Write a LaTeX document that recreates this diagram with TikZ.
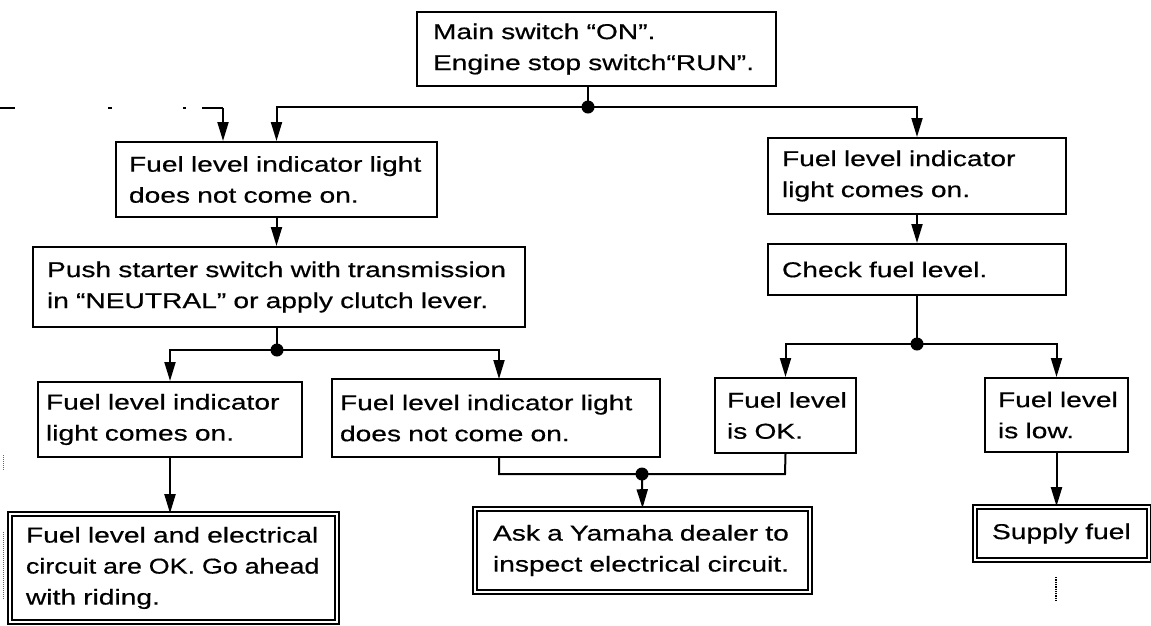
\documentclass[tikz,border=0pt]{standalone}
\usepackage{fontspec}
\setmainfont[FakeStretch=1.31,WordSpace=0.75,FakeBold=0.5]{Liberation Sans}
\usetikzlibrary{arrows.meta}
\begin{document}
\begin{tikzpicture}[x=1pt,y=-1pt,
  box/.style={draw,line width=2pt,align=left,inner ysep=0pt,
    font=\fontsize{21.5}{31}\selectfont},
  dbox/.style={box,double,double distance=2.4pt,line width=1.6pt},
  arr/.style={line width=2pt,-{Triangle[length=19pt,width=11pt]}},
  ln/.style={line width=2pt},
  dot/.style={circle,fill,inner sep=0pt,minimum size=13pt}]
\useasboundingbox (0,0) rectangle (1151,625);

% boxes
\node[box,minimum width=359,minimum height=74,inner xsep=16pt,text width=327pt] (A) at (596.5,49)
  {\mbox{Main switch “ON”.}\\\mbox{Engine stop switch“RUN”.}};
\node[box,minimum width=321,minimum height=75,inner xsep=13pt,text width=295pt] (B) at (276.5,179.5)
  {\mbox{Fuel level indicator light}\\\mbox{does not come on.}};
\node[box,minimum width=298,minimum height=76,inner xsep=14pt,text width=270pt] (C) at (917,176)
  {\mbox{Fuel level indicator}\\\mbox{light comes on.}};
\node[box,minimum width=492,minimum height=80,inner xsep=14pt,text width=464pt] (D) at (279,287)
  {\mbox{Push starter switch with transmission}\\\mbox{in “NEUTRAL” or apply clutch lever.}};
\node[box,minimum width=298,minimum height=51,inner xsep=14pt,text width=270pt] (E) at (917,269.5)
  {\mbox{Check fuel level.}};
\node[box,minimum width=264,minimum height=75,inner xsep=8pt,text width=248pt] (F) at (170,419.5)
  {\mbox{Fuel level indicator}\\\mbox{light comes on.}};
\node[box,minimum width=328,minimum height=78,inner xsep=8pt,text width=312pt] (G) at (496,418)
  {\mbox{Fuel level indicator light}\\\mbox{does not come on.}};
\node[box,minimum width=141,minimum height=75,inner xsep=12pt,text width=117pt] (H) at (785.5,415.5)
  {\mbox{Fuel level}\\\mbox{is OK.}};
\node[box,minimum width=143,minimum height=74,inner xsep=13pt,text width=117pt] (I) at (1056.5,415)
  {\mbox{Fuel level}\\\mbox{is low.}};
\node[dbox,minimum width=327,minimum height=108,inner xsep=16pt,text width=295pt] (J) at (173.5,568)
  {\mbox{Fuel level and electrical}\\\scalebox{0.955}[1]{circuit are OK. Go ahead}\\\mbox{with riding.}};
\node[dbox,minimum width=335,minimum height=83,inner xsep=18pt,text width=299pt] (K) at (642.5,550.5)
  {\mbox{Ask a Yamaha dealer to}\\\mbox{inspect electrical circuit.}};
\node[dbox,minimum width=174,minimum height=53,inner xsep=17pt,text width=140pt] (L) at (1062,533.5)
  {\mbox{Supply fuel}};

% junction dots
\node[dot] (d1) at (588,107) {};
\node[dot] (d2) at (277,350) {};
\node[dot] (d3) at (642,474) {};
\node[dot] (d4) at (917,344) {};

% top split
\draw[ln] (d1 |- A.south) -- (d1.center);
\draw[arr] (d1.center) -| (B.north);
\draw[arr] (d1.center) -| (C.north);

% left incoming dashed line
\coordinate (lf) at (0,108);
\coordinate (lc) at (223,108);
\draw[line width=1.4pt,dash pattern=on 15pt off 93pt on 4pt off 71pt on 3pt off 16pt on 22pt] (lf) -- (lc);
\draw[arr] (lc) -- (lc |- B.north);

% left column
\draw[arr] (B.south) -- (B.south |- D.north);
\draw[ln] (d2 |- D.south) -- (d2.center);
\draw[arr] (d2.center) -| (F.north);
\draw[arr] (d2.center) -| (499,379);
\draw[arr] (F.south) -- (F.south |- J.north);

% merge to dealer
\coordinate (g1) at (499,474);
\coordinate (h1) at (785,474);
\draw[ln] (499,457) -- (g1) -- (d3.center) -- (h1) -- (H.south);
\draw[arr] (d3.center) -- (K.north);

% right column
\draw[arr] (C.south) -- (E.north);
\draw[ln] (E.south) -- (d4.center);
\draw[arr] (d4.center) -| (H.north);
\draw[arr] (d4.center) -| (I.north);
\draw[arr] (I.south) -- (I.south |- L.north);

% dotted continuations
\coordinate (s1) at (1056,577);
\coordinate (s2) at (1056,602);
\draw[line width=1.3pt,densely dotted] (s1) -- (s2);
\coordinate (m1) at (3,455);
\coordinate (m2) at (3,470);
\coordinate (m3) at (3,532);
\coordinate (m4) at (3,600);
\draw[line width=1pt,densely dotted,black!60] (m1) -- (m2);
\draw[line width=1pt,densely dotted,black!60] (m3) -- (m4);
\end{tikzpicture}
\end{document}
